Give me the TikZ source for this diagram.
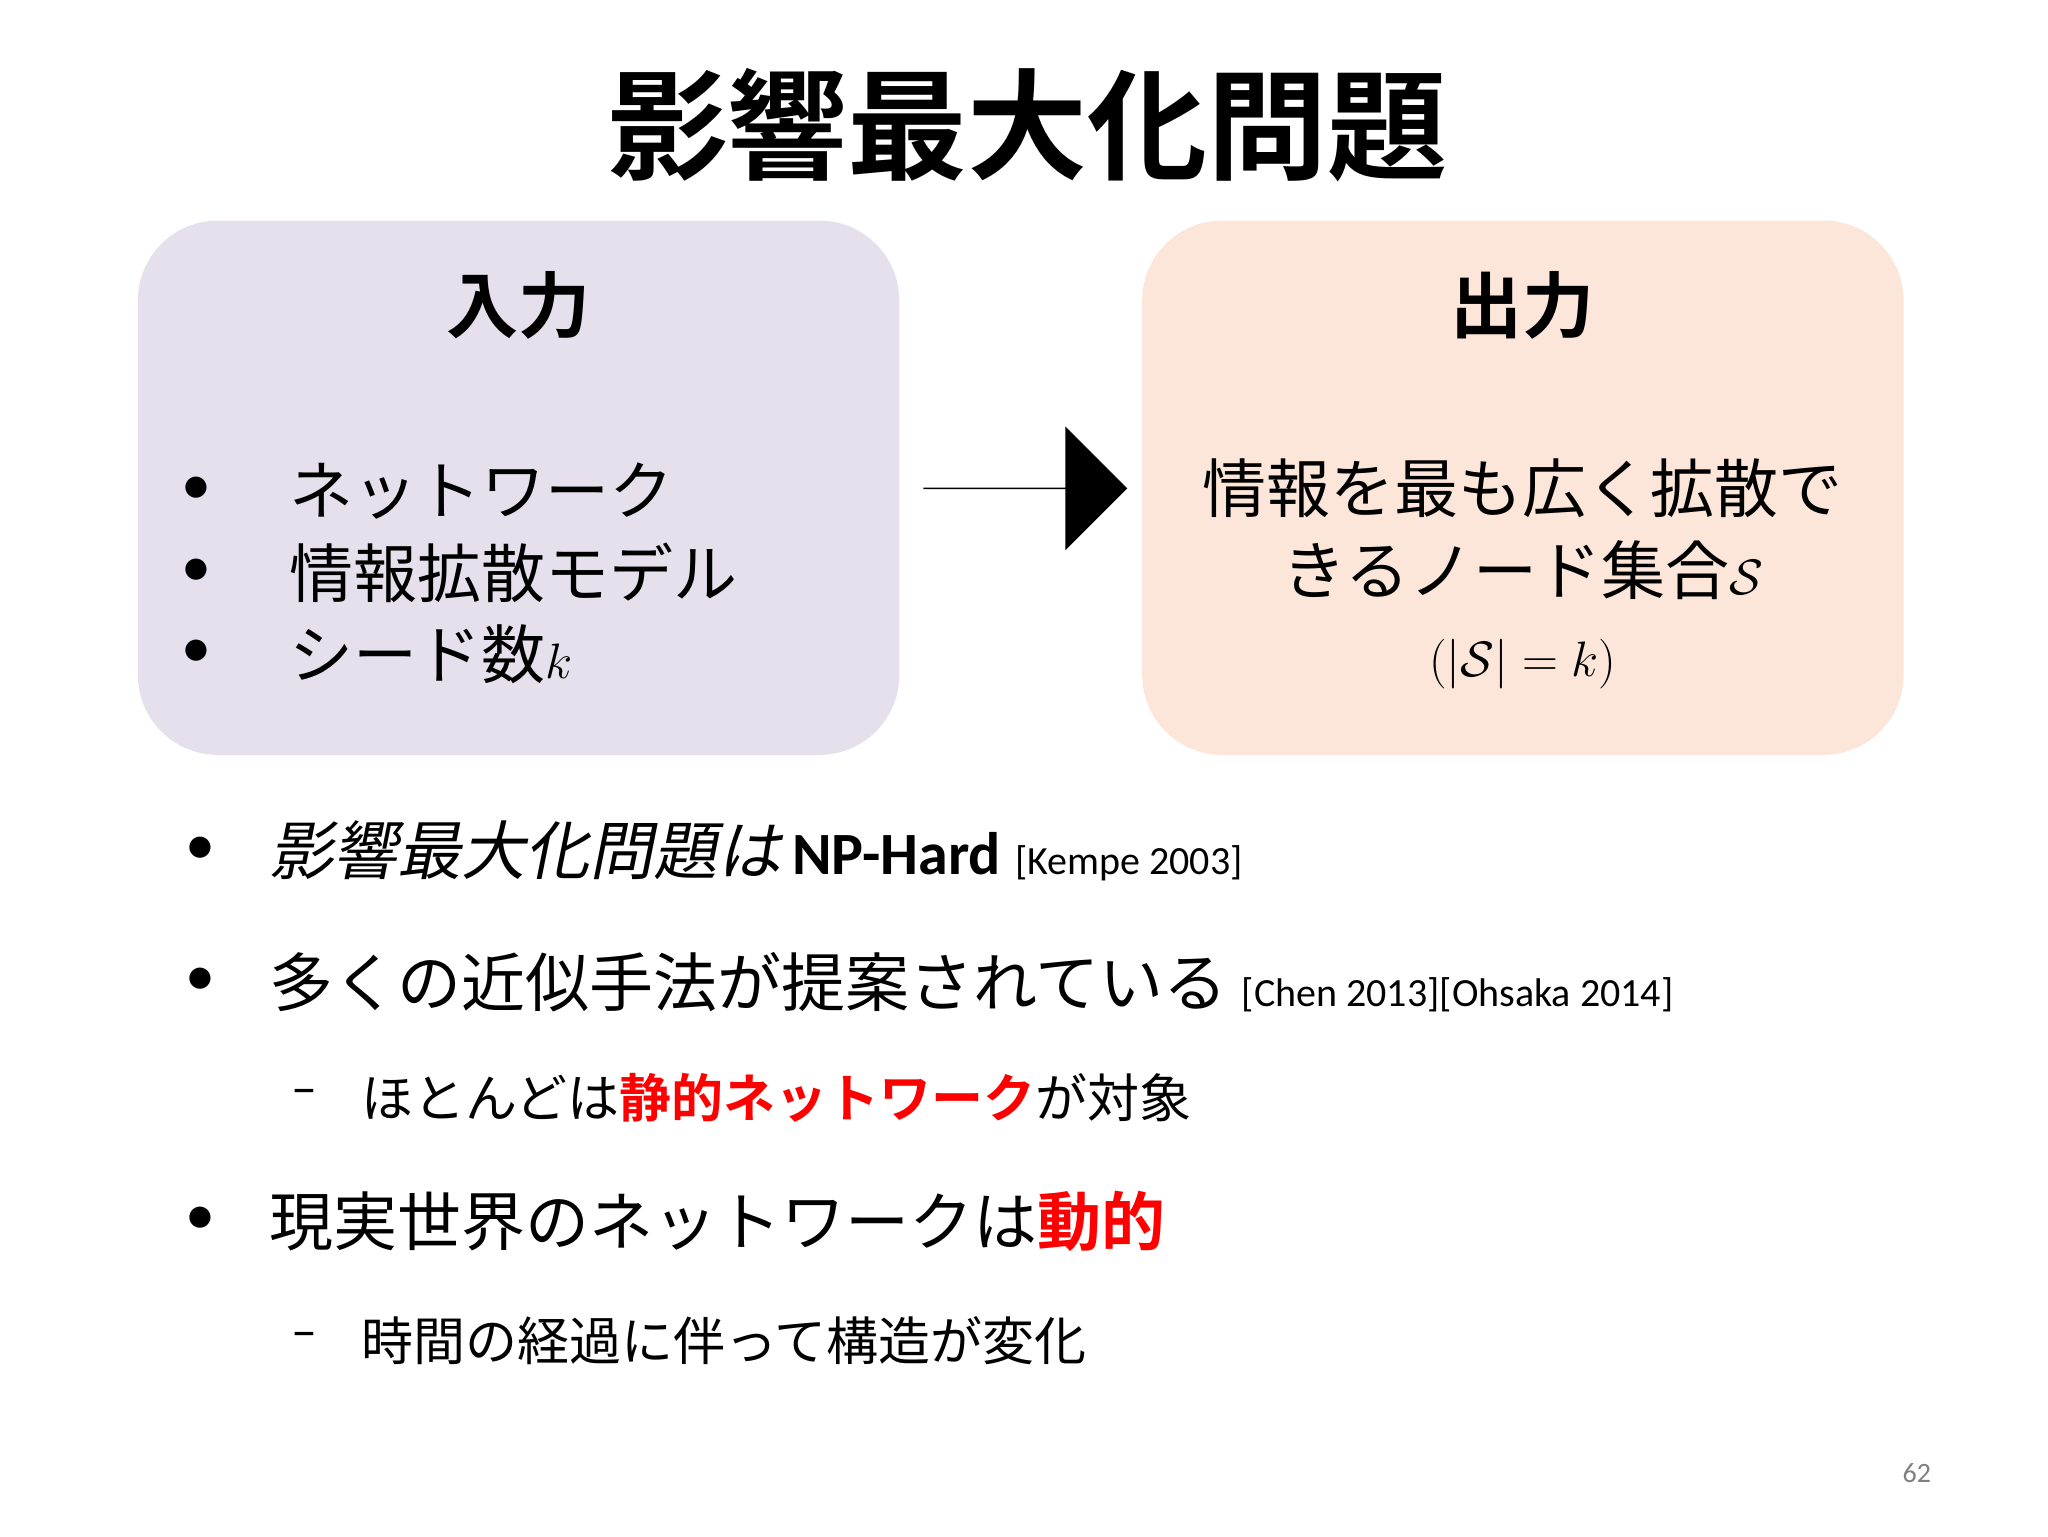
\documentclass[tikz,border=0pt]{standalone}
\usepackage{fontspec}
\setmainfont{Carlito}
\newfontfamily\jp{Noto Sans CJK JP}
\newfontfamily\jpb{Noto Sans CJK JP Bold}
\newfontfamily\jpi[FakeSlant=0.2]{Noto Sans CJK JP}
\usetikzlibrary{shapes.arrows}
\definecolor{lav}{HTML}{E6E0EC}
\definecolor{peach}{HTML}{FCE6D9}
\definecolor{hred}{HTML}{FF0000}
\begin{document}
\begin{tikzpicture}[x=0.6565pt,y=-0.6565pt,
  box/.style={rounded corners=40pt,inner sep=0pt},
  head/.style={font=\fontsize{36}{40}\jpb},
  item/.style={anchor=west,font=\fontsize{32}{36}\jp,inner sep=0pt},
  bul/.style={anchor=center,font=\fontsize{30}{34}\selectfont,inner sep=0pt},
  sub/.style={anchor=west,font=\fontsize{26}{30}\jp,inner sep=0pt}]
\useasboundingbox (0,0) rectangle (1560,1170);
\fill[white] (0,0) rectangle (1560,1170);
\node[font=\fontsize{60}{66}\jpb] (title) at (783,95) {影響最大化問題};
\fill[lav,box] (105,168) rectangle (685,575);
\fill[peach,box] (870,168) rectangle (1450,575);
\node[head] (in) at (395,233) {入力};
\node[head] (out) at (1160,233) {出力};
\node[bul] (b1) at (150,374) {•};
\node[bul] (b2) at (150,436) {•};
\node[bul] (b3) at (150,498) {•};
\node[item] (i1) at (220,374) {ネットワーク};
\node[item] (i2) at (220,436) {情報拡散モデル};
\node[item] (i3) at (220,498) {シード数$k$};
\node[align=center,font=\fontsize{32}{41}\jp] (o) at (1160,437) {情報を最も広く拡散で\\きるノード集合$\mathcal{S}$\\$(|\mathcal{S}|=k)$};
\node[single arrow,fill=black,minimum height=102pt,minimum width=62pt,single arrow head extend=15pt,inner sep=0pt,anchor=west] (arr) at (703,372) {};
\node[bul] (c1) at (153,648) {•};
\node[item] (l1) at (205,648) {\jpi 影響最大化問題は\,{\fontsize{30}{34}\rmfamily\bfseries NP-Hard} {\rmfamily\fontsize{20}{24}\selectfont [Kempe 2003]}};
\node[bul] (c2) at (153,748) {•};
\node[item] (l2) at (205,748) {多くの近似手法が提案されている {\rmfamily\fontsize{20}{24}\selectfont [Chen 2013][Ohsaka 2014]}};
\node[sub] (d1) at (222,836) {{\rmfamily –}};
\node[sub] (s1) at (275,836) {ほとんどは{\jpb\color{hred}静的ネットワーク}が対象};
\node[bul] (c3) at (153,930) {•};
\node[item] (l3) at (205,930) {現実世界のネットワークは{\jpb\color{hred}動的}};
\node[sub] (d2) at (222,1021) {{\rmfamily –}};
\node[sub] (s2) at (275,1021) {時間の経過に伴って構造が変化};
\node[font=\fontsize{14}{16}\selectfont,text=gray] (pg) at (1460,1122) {62};
\end{tikzpicture}
\end{document}
